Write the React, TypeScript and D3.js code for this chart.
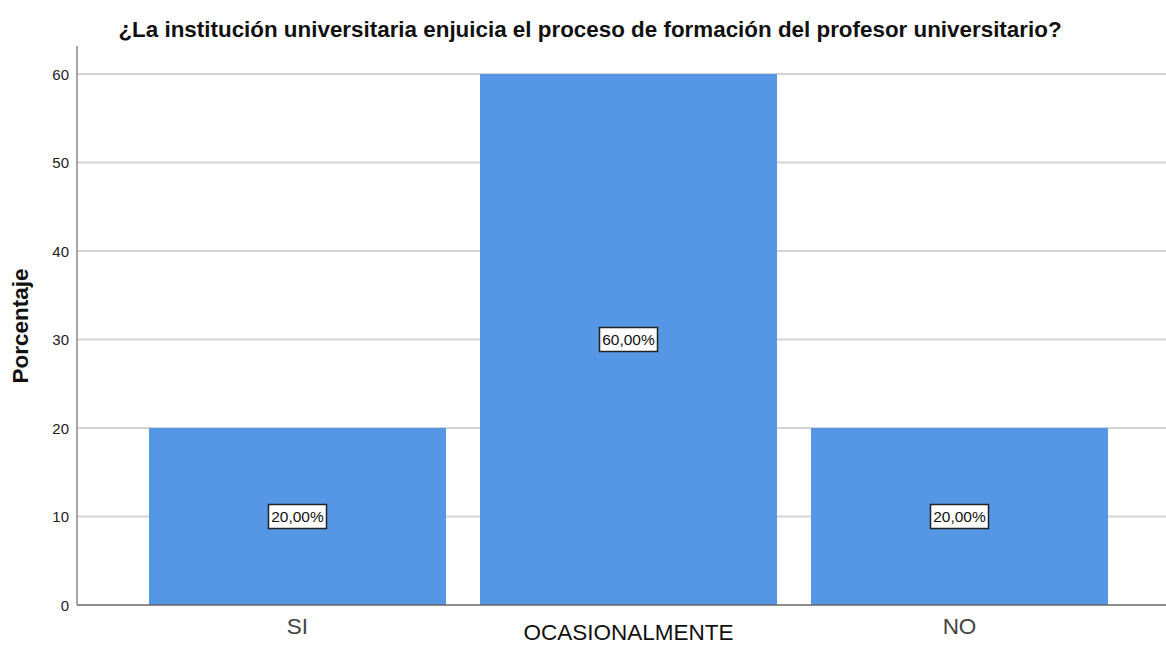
import React from "react";
import * as d3 from "d3";

const categories = ["SI", "OCASIONALMENTE", "NO"];
const values = [20, 60, 20];
const valueLabels = ["20,00%", "60,00%", "20,00%"];
const yTicks = [0, 10, 20, 30, 40, 50, 60];
const title = "¿La institución universitaria enjuicia el proceso de formación del profesor universitario?";
const yTitle = "Porcentaje";

const W = 1166, H = 645;
const x0 = 77, yBottom = 605, yTop60 = 74;

export default function App() {
  const x = d3.scaleBand<string>().domain(categories).range([x0, 1180]).paddingInner(0.1027).paddingOuter(0.2175);
  const y = d3.scaleLinear().domain([0, 60]).range([yBottom, yTop60]);
  const font = "'Liberation Sans', Arial, sans-serif";
  return (
    <svg width={W} height={H} style={{ position: "absolute", left: 0, top: 0, background: "#fff" }} fontFamily={font}>
      <rect x={0} y={0} width={W} height={H} fill="#fff" />
      <text x={590} y={37} textAnchor="middle" fontSize={22.4} fontWeight="bold" fill="#111">{title}</text>
      {yTicks.map((t) => (
        <g key={t}>
          {t > 0 && <line x1={x0} x2={W} y1={y(t)} y2={y(t)} stroke="#d4d4d4" strokeWidth={2} />}
          <text x={69} y={y(t) + 5.5} textAnchor="end" fontSize={15} fill="#222">{t}</text>
        </g>
      ))}
      {categories.map((c, i) => (
        <rect key={c} x={x(c)} y={y(values[i])} width={x.bandwidth()} height={yBottom - y(values[i])} fill="#5596E5" />
      ))}
      <line x1={x0} x2={W} y1={yBottom} y2={yBottom} stroke="#666" strokeWidth={1.5} />
      <line x1={x0} x2={x0} y1={46} y2={yBottom} stroke="#888" strokeWidth={1.5} />
      {categories.map((c, i) => {
        const cx = (x(c) as number) + x.bandwidth() / 2;
        const cy = y(values[i] / 2);
        return (
          <g key={c + "l"}>
            <rect x={cx - 29} y={cy - 12} width={58} height={24} fill="#fff" stroke="#222" strokeWidth={1.5} />
            <text x={cx} y={cy + 5.5} textAnchor="middle" fontSize={15.5} fill="#111">{valueLabels[i]}</text>
          </g>
        );
      })}
      {categories.map((c, i) => {
        const cx = (x(c) as number) + x.bandwidth() / 2;
        return (
          <text key={c + "x"} x={cx} y={i % 2 === 1 ? 640 : 634} textAnchor="middle" fontSize={22.5} fill={i % 2 === 1 ? "#111" : "#444"}>{c}</text>
        );
      })}
      <text transform={`translate(28,326) rotate(-90)`} textAnchor="middle" fontSize={22.5} fontWeight="bold" fill="#111">{yTitle}</text>
    </svg>
  );
}
